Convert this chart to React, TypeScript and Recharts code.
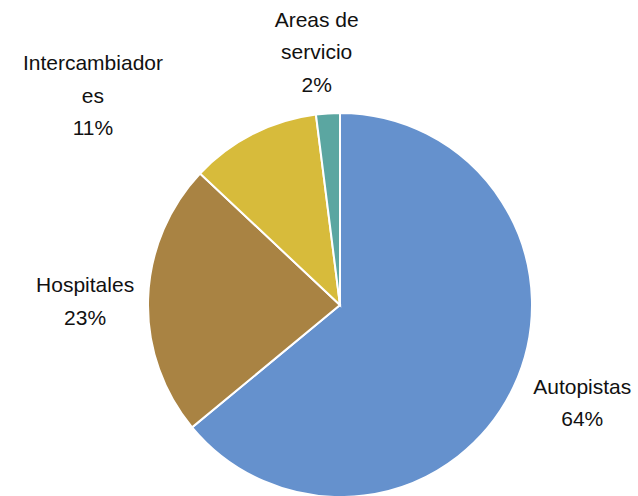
import React from 'react';
import { PieChart, Pie, Cell } from 'recharts';

const categories = ['Autopistas', 'Hospitales', 'Intercambiadores', 'Areas de servicio'];
const shares = [64, 23, 11, 2];
const labelLines = [['Autopistas'], ['Hospitales'], ['Intercambiador', 'es'], ['Areas de', 'servicio']];
const colors = ['#6591CD', '#A98343', '#D7BB3B', '#5BA6A1'];

// nudges to mimic the spreadsheet's label placement
const nudges = [
    [7, -13],
    [5, 4],
    [-129, 22],
    [-7, 6],
];

const data = categories.map((name, i) => ({ name, value: shares[i] }));
const RAD = Math.PI / 180;

const renderLabel = (props: any) => {
    const { cx, cy, midAngle, outerRadius, index, value } = props;
    const r = outerRadius + 68;
    const x = cx + r * Math.cos(-midAngle * RAD) + nudges[index][0];
    const y = cy + r * Math.sin(-midAngle * RAD) + nudges[index][1];
    const lines = [...labelLines[index], `${value}%`];
    const step = 32.5;
    return (
        <g key={`label-${index}`}>
            {lines.map((t, i) => (
                <text
                    key={i}
                    x={x}
                    y={y + (i - (lines.length - 1) / 2) * step}
                    textAnchor="middle"
                    dominantBaseline="central"
                    fill="#111"
                    fontSize={21}
                    fontFamily="'Liberation Sans', Arial, sans-serif"
                >
                    {t}
                </text>
            ))}
        </g>
    );
};

const App = () => {
    return (
        <div style={{ position: 'absolute', left: 0, top: 0, background: '#fff' }}>
            <PieChart width={638} height={496} margin={{ top: 0, right: 0, bottom: 0, left: 0 }}>
                <Pie
                    data={data}
                    dataKey="value"
                    nameKey="name"
                    cx={340}
                    cy={305}
                    outerRadius={192}
                    startAngle={90}
                    endAngle={-270}
                    stroke="#fff"
                    strokeWidth={2}
                    label={renderLabel}
                    labelLine={false}
                    isAnimationActive={false}
                >
                    {data.map((entry, index) => (
                        <Cell key={`cell-${index}`} fill={colors[index]} />
                    ))}
                </Pie>
            </PieChart>
        </div>
    );
};

export default App;
